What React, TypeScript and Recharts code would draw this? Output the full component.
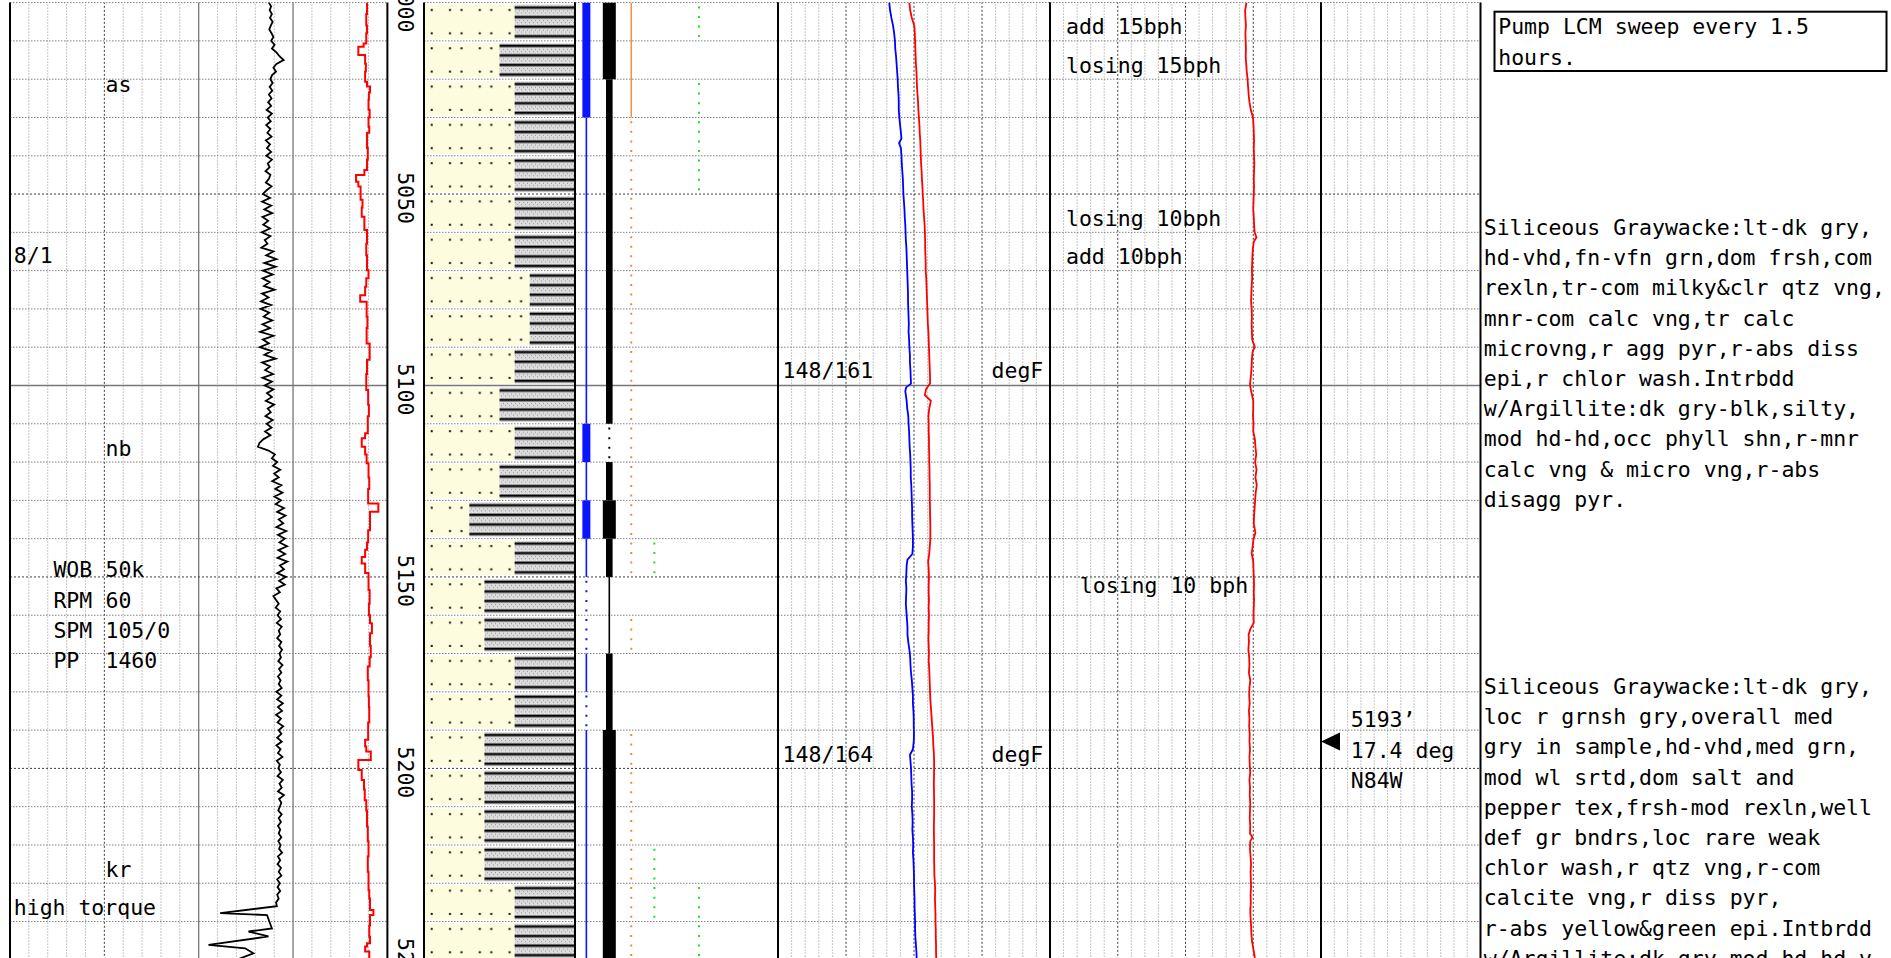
import React from 'react';
import { ComposedChart, Line, Bar, XAxis, YAxis, ReferenceLine, ReferenceDot } from 'recharts';

// ---------------- data ----------------
const DEPTH_TOP = 5000;
const DEPTH_BOTTOM = 5250;
const minorDepths = [5000, 5010, 5020, 5030, 5040, 5060, 5070, 5080, 5090, 5110, 5120, 5130, 5140, 5160, 5170, 5180, 5190, 5210, 5220, 5230, 5240];
const dashedMajorDepths = [5050, 5150, 5200];
const solidMajorDepths = [5100];
const depthLabels = [5000, 5050, 5100, 5150, 5200, 5250];

const intervalTops = [5000, 5010, 5020, 5030, 5040, 5050, 5060, 5070, 5080, 5090, 5100, 5110, 5120, 5130, 5140, 5150, 5160, 5170, 5180, 5190, 5200, 5210, 5220, 5230, 5240];
const sandPercent = [60, 50, 60, 60, 60, 60, 60, 70, 70, 60, 50, 60, 50, 30, 60, 40, 40, 60, 60, 40, 40, 40, 40, 60, 60];

// gas / show columns: 0 none, 1 trace (dotted), 2 thin, 3 medium, 4 thick
const c1Levels = [4, 4, 4, 2, 2, 2, 2, 2, 2, 2, 2, 4, 2, 4, 2, 1, 1, 2, 1, 2, 2, 2, 2, 2, 2];
const c2Levels = [4, 4, 3, 3, 3, 3, 3, 3, 3, 3, 3, 1, 3, 4, 3, 2, 2, 3, 3, 4, 4, 4, 4, 4, 4];
const c3Levels = [2, 2, 2, 1, 1, 1, 1, 1, 1, 1, 1, 1, 1, 1, 1, 0, 1, 0, 0, 1, 1, 1, 1, 1, 1];
const c4Levels = [0, 0, 0, 0, 0, 0, 0, 0, 0, 0, 0, 0, 0, 0, 1, 0, 0, 0, 0, 0, 0, 0, 1, 1, 0];
const c5Levels = [1, 0, 1, 1, 1, 0, 0, 0, 0, 0, 0, 0, 0, 0, 0, 0, 0, 0, 0, 0, 0, 0, 0, 1, 1];

// drilling rate curve (% of track), one value per foot from 5000
const ropValues = [
  68.6, 69.2, 68.8, 69.4, 68.9, 69.6, 69.1, 68.7, 69.3, 69.8,
  69.2, 70.1, 69.4, 70.6, 71.4, 72.5, 70.6, 69.8, 70.5, 69.4,
  69.0, 69.6, 68.8, 69.5, 68.6, 69.3, 68.4, 69.2, 68.0, 69.4,
  68.3, 69.1, 67.9, 69.0, 68.2, 69.3, 67.8, 68.9, 68.1, 69.2,
  67.9, 69.4, 68.3, 68.8, 67.7, 69.0, 68.6, 67.8, 69.3, 68.0,
  67.0, 68.9, 66.8, 69.2, 67.4, 69.5, 66.9, 68.4, 67.1, 68.9,
  66.7, 69.0, 67.5, 68.2, 66.6, 69.8, 67.9, 70.6, 67.4, 70.4,
  67.0, 69.6, 66.9, 68.8, 67.3, 70.1, 66.8, 68.5, 66.5, 69.2,
  66.4, 68.7, 67.2, 69.5, 66.9, 68.9, 66.3, 69.8, 67.0, 68.6,
  66.2, 69.3, 67.4, 70.4, 66.8, 68.9, 67.6, 69.7, 66.9, 69.4,
  67.5, 69.8, 68.1, 69.4, 67.8, 70.0, 68.3, 69.1, 67.7, 69.6,
  68.0, 69.3, 67.6, 69.0, 67.2, 66.1, 65.7, 68.5, 70.2, 69.4,
  70.8, 69.7, 71.6, 70.0, 71.2, 69.5, 71.9, 70.3, 72.2, 70.1,
  71.8, 70.4, 72.6, 70.8, 73.0, 71.2, 72.4, 70.6, 73.2, 71.0,
  72.8, 71.4, 73.4, 71.1, 72.9, 70.9, 73.5, 71.5, 72.6, 70.8,
  73.1, 71.3, 72.8, 70.6, 71.5, 69.8, 70.5, 71.2, 70.4, 71.6,
  70.9, 71.8, 70.7, 72.0, 71.2, 71.6, 70.8, 71.9, 71.3, 72.1,
  71.4, 71.8, 71.1, 72.2, 71.3, 71.9, 71.0, 71.7, 71.2, 72.0,
  70.6, 71.9, 70.8, 72.3, 71.0, 72.1, 70.5, 71.8, 70.9, 72.4,
  71.2, 71.9, 70.8, 72.0, 70.6, 71.7, 71.0, 72.2, 70.7, 71.5,
  71.1, 71.8, 70.9, 72.3, 71.4, 72.0, 71.0, 72.6, 71.3, 71.9,
  71.5, 71.1, 72.0, 71.2, 71.8, 71.0, 71.6, 71.2, 71.9, 71.1,
  71.7, 71.3, 72.1, 71.0, 71.6, 70.9, 71.8, 71.2, 71.9, 70.8,
  71.5, 70.9, 71.6, 70.8, 71.2, 70.5, 70.7,
];
const ropTail: [number, number][] = [
  [5237.8, 55.7], [5238.3, 68.1], [5241.8, 69.4], [5242.6, 63.2], [5243.9, 68.5],
  [5246.1, 52.6], [5247.0, 62.3], [5248.3, 64.5], [5250, 60.0],
];

// torque (stepped), % of track
const torqueSteps: [number, number][] = [
  [5000, 94.6], [5003, 94.4], [5006, 94.6], [5008, 94.4], [5010.7, 93.7], [5011.5, 92.3], [5013.7, 94.1], [5016, 94.3],
  [5018, 94.1], [5020.7, 94.6], [5021.9, 95.4], [5023.5, 95.1], [5025.4, 95.0], [5028, 95.3], [5030, 95.0], [5032.4, 95.2],
  [5034, 94.6], [5038, 94.8], [5041, 94.6], [5043.7, 93.9], [5045, 91.7], [5046.8, 92.3], [5048, 92.9], [5051.5, 93.4],
  [5053.5, 93.2], [5055.9, 93.9], [5059.4, 94.6], [5063, 94.4], [5066, 94.6], [5069.9, 95.0], [5072, 94.4], [5074.2, 94.1],
  [5076.4, 92.8], [5078.1, 94.5], [5082, 94.7], [5085, 94.5], [5089, 95.3], [5093.3, 94.6], [5097, 94.4], [5101.2, 94.9],
  [5105, 95.1], [5108, 94.8], [5112.5, 94.1], [5113.8, 93.2], [5116, 94.1], [5118, 94.5], [5120.3, 95.0], [5124, 95.2],
  [5127, 94.9], [5130.8, 97.6], [5133, 95.4], [5137.8, 94.9], [5141, 94.6], [5142.9, 94.1], [5144.8, 93.2], [5146.5, 94.1],
  [5149, 95.0], [5153.4, 95.3], [5157, 95.1], [5160, 95.4], [5162.1, 95.9], [5164.7, 95.4], [5168, 95.6], [5171, 95.3],
  [5173.4, 94.8], [5177, 95.0], [5181.2, 95.1], [5184, 95.2], [5188, 94.9], [5192.5, 94.1], [5194.3, 94.4], [5195.6, 95.6],
  [5197.8, 92.3], [5200.4, 93.2], [5203, 93.8], [5205.5, 94.0], [5208.3, 94.4], [5211, 94.6], [5215.2, 94.8], [5219, 95.0],
  [5223, 94.8], [5227, 95.0], [5231.8, 95.2], [5234, 95.4], [5237, 96.3], [5238.3, 95.4], [5241, 95.2], [5244, 95.4],
  [5245.7, 94.6], [5246.5, 94.1], [5247.8, 95.2], [5250, 95.2],
];

// mud temperature in / out (degF)
const tempIn: [number, number][] = [
  [5000, 140.9], [5002, 141.2], [5004, 141.7], [5006, 142.3], [5008, 142.7], [5010, 143.0], [5012, 143.1], [5014, 143.4],
  [5016, 143.6], [5018, 143.8], [5020, 144.0], [5022, 144.1], [5024, 144.3], [5026, 144.4], [5028, 144.4], [5030, 144.6],
  [5032, 144.9], [5034, 145.2], [5035.5, 145.4], [5036.7, 144.5], [5038, 145.2], [5040, 145.4], [5042, 145.5], [5044, 145.7],
  [5046, 145.9], [5048, 146.0], [5050, 146.1], [5052, 146.3], [5054, 146.5], [5056, 146.6], [5058, 146.8], [5060, 146.9],
  [5062, 147.0], [5064, 147.2], [5066, 147.3], [5068, 147.4], [5070, 147.5], [5072, 147.6], [5074, 147.7], [5076, 147.8],
  [5078, 147.8], [5080, 147.9], [5082, 148.0], [5084, 148.1], [5086, 148.0], [5088, 148.2], [5090, 148.3], [5092, 148.5],
  [5094, 148.5], [5096, 148.7], [5098, 148.8], [5099.5, 148.9], [5100.5, 147.1], [5101.5, 146.8], [5104, 147.3], [5106, 147.5],
  [5108, 147.9], [5110, 148.0], [5112, 148.2], [5114, 148.3], [5116, 148.4], [5118, 148.6], [5120, 148.7], [5122, 148.8],
  [5124, 148.8], [5126, 149.0], [5128, 149.1], [5130, 149.2], [5132, 149.3], [5134, 149.3], [5136, 149.4], [5138, 149.5],
  [5140, 149.6], [5142, 149.6], [5144, 149.4], [5145.5, 147.6], [5147, 147.3], [5149, 147.2], [5151, 147.0], [5153, 147.2],
  [5155, 147.1], [5157, 147.0], [5159, 147.2], [5161, 147.4], [5163, 147.6], [5165, 147.6], [5167, 147.9], [5169, 148.3],
  [5171, 148.6], [5173, 148.7], [5175, 148.9], [5177, 149.2], [5179, 149.4], [5181, 149.6], [5183, 149.6], [5185, 149.8],
  [5187, 149.9], [5189, 149.9], [5191, 150.0], [5193, 149.9], [5195, 149.6], [5196.5, 148.5], [5198, 148.7], [5200, 148.9],
  [5202, 149.0], [5204, 149.1], [5206, 149.3], [5208, 149.3], [5210, 149.2], [5212, 149.4], [5214, 149.5], [5216, 149.4],
  [5218, 149.6], [5220, 149.7], [5222, 149.6], [5224, 149.8], [5226, 149.9], [5228, 150.0], [5230, 150.0], [5232, 150.1],
  [5234, 150.2], [5236, 150.2], [5238, 150.3], [5240, 150.4], [5242, 150.4], [5244, 150.5], [5246, 150.7], [5248, 150.9],
  [5250, 151.0],
];
const tempOut: [number, number][] = [
  [5000, 148.3], [5002, 148.6], [5004, 149.2], [5006, 150.1], [5008, 150.3], [5010, 150.4], [5012, 150.5], [5014, 150.6],
  [5016, 150.7], [5018, 150.9], [5020, 151.0], [5022, 151.1], [5024, 151.3], [5026, 151.5], [5028, 151.6], [5030, 151.8],
  [5032, 152.0], [5034, 152.1], [5036, 152.3], [5038, 152.4], [5040, 152.5], [5042, 152.6], [5044, 152.8], [5046, 152.9],
  [5048, 153.1], [5050, 153.2], [5052, 153.4], [5054, 153.5], [5056, 153.7], [5058, 153.9], [5060, 154.0], [5062, 154.1],
  [5064, 154.1], [5066, 154.2], [5068, 154.3], [5070, 154.3], [5072, 154.5], [5074, 154.6], [5076, 154.7], [5078, 154.8],
  [5080, 154.9], [5082, 155.0], [5084, 155.1], [5086, 155.3], [5088, 155.4], [5090, 155.5], [5092, 155.6], [5094, 155.7],
  [5096, 155.8], [5098, 155.9], [5099.5, 155.9], [5101, 154.4], [5102.5, 154.0], [5104, 156.2], [5106, 155.6], [5108, 155.3],
  [5110, 155.4], [5112, 155.4], [5114, 155.5], [5116, 155.5], [5118, 155.6], [5120, 155.6], [5122, 155.7], [5124, 155.7],
  [5126, 155.8], [5128, 155.8], [5130, 155.8], [5132, 155.9], [5134, 155.9], [5136, 156.0], [5138, 156.0], [5140, 156.0],
  [5142, 155.8], [5144, 155.6], [5146, 155.2], [5148, 155.4], [5150, 155.5], [5152, 155.4], [5154, 155.4], [5156, 155.5],
  [5158, 155.4], [5160, 155.5], [5162, 155.4], [5164, 155.4], [5166, 155.3], [5168, 155.4], [5170, 155.5], [5172, 155.4],
  [5174, 155.6], [5176, 155.7], [5178, 155.8], [5180, 155.9], [5182, 156.0], [5184, 156.2], [5186, 156.4], [5188, 156.6],
  [5190, 156.8], [5192, 157.0], [5194, 157.1], [5196, 157.3], [5198, 157.4], [5200, 157.4], [5204, 157.3], [5208, 157.4],
  [5212, 157.4], [5216, 157.3], [5220, 157.4], [5224, 157.4], [5228, 157.5], [5230, 157.7], [5232, 157.8], [5234, 157.7],
  [5236, 157.8], [5238, 157.9], [5240, 157.9], [5242, 158.0], [5244, 158.0], [5246, 158.1], [5248, 158.1], [5250, 158.2],
];

// mud flow / pit (% of track)
const flowPts: [number, number][] = [
  [5000, 72.5], [5002, 72.0], [5004, 72.1], [5006, 72.3], [5008, 72.1], [5010, 72.2], [5012, 72.3], [5014, 72.2],
  [5016, 72.4], [5018, 72.6], [5020, 72.9], [5022, 73.1], [5024, 73.3], [5026, 73.6], [5028, 74.1], [5030, 74.9],
  [5032, 75.1], [5034, 75.2], [5036, 75.3], [5038, 75.2], [5040, 75.3], [5042, 75.4], [5044, 75.3], [5046, 75.2],
  [5048, 75.3], [5050, 75.2], [5052, 75.1], [5054, 75.0], [5056, 75.2], [5058, 75.3], [5060, 75.5], [5061.3, 76.2],
  [5062.5, 75.2], [5064, 74.9], [5066, 74.7], [5068, 74.6], [5070, 74.5], [5072, 74.6], [5074, 74.4], [5076, 74.3],
  [5078, 74.2], [5080, 74.4], [5082, 74.5], [5084, 74.4], [5086, 74.5], [5088, 74.6], [5090, 75.6], [5091, 74.8],
  [5093, 74.5], [5095, 74.4], [5097, 74.2], [5099, 73.9], [5100, 73.8], [5102, 74.4], [5104, 75.0], [5106, 75.0],
  [5108, 74.9], [5110, 75.1], [5112, 75.0], [5114, 75.6], [5116, 75.8], [5118, 76.1], [5120, 75.7], [5122, 76.2],
  [5124, 75.8], [5126, 76.3], [5128, 75.9], [5130, 75.7], [5132, 75.5], [5134, 75.3], [5136, 75.2], [5138.5, 75.8],
  [5140, 75.1], [5142, 74.8], [5143.8, 74.4], [5146, 75.0], [5148, 75.1], [5150, 75.2], [5152, 75.3], [5154, 75.2],
  [5156, 75.3], [5158, 75.2], [5160, 75.1], [5162, 75.2], [5163.5, 74.0], [5165, 73.3], [5167, 73.4], [5169, 73.2],
  [5171, 73.5], [5173, 73.6], [5175, 73.4], [5177, 73.9], [5179, 73.6], [5181, 73.5], [5183, 73.7], [5185, 73.4],
  [5187, 73.6], [5189, 73.5], [5191, 73.7], [5193, 73.6], [5195, 73.8], [5197, 73.6], [5199, 73.7], [5201, 73.9],
  [5203, 73.6], [5205, 73.8], [5207, 73.7], [5209, 73.9], [5211, 73.8], [5213, 73.7], [5215, 73.9], [5217, 73.8],
  [5218, 74.7], [5219, 73.9], [5221, 73.8], [5223, 74.0], [5225, 74.2], [5227, 74.0], [5229, 74.1], [5231, 74.2],
  [5233, 74.0], [5235, 74.1], [5237, 73.9], [5239, 74.0], [5241, 74.2], [5243, 74.3], [5245, 74.5], [5247, 75.0],
  [5249, 75.5], [5250, 75.6],
];

const surveyDepth = 5193;

// text annotations: [depth, x-value, text]
const drillNotes: [number, number, string][] = [
  [5023.3, 25.3, 'as'], [5068.1, 1.0, '8/1'], [5118.4, 25.3, 'nb'],
  [5150.1, 11.5, 'WOB'], [5150.1, 25.3, '50k'],
  [5158.2, 11.5, 'RPM'], [5158.2, 25.3, '60'],
  [5166.0, 11.5, 'SPM'], [5166.0, 25.3, '105/0'],
  [5173.9, 11.5, 'PP'], [5173.9, 25.3, '1460'],
  [5228.3, 25.3, 'kr'], [5238.3, 1.0, 'high torque'],
];
const tempNotes: [number, number, string][] = [
  [5098.1, 101.7, '148/161'], [5098.1, 178.5, 'degF'],
  [5198.2, 101.7, '148/164'], [5198.2, 178.5, 'degF'],
];
const flowNotes: [number, number, string][] = [
  [5008.3, 5.9, 'add 15bph'], [5018.3, 5.9, 'losing 15bph'],
  [5058.3, 5.9, 'losing 10bph'], [5068.3, 5.9, 'add 10bph'],
  [5154.3, 11.0, 'losing 10 bph'],
];
const surveyNotes: [number, number, string][] = [
  [5189.3, 22.4, '5193\u2019'], [5197.4, 22.4, '17.4 deg'], [5205.2, 22.4, 'N84W'],
];

const remarkLines = ['Pump LCM sweep every 1.5', 'hours.'];
const descriptionA = [
  'Siliceous Graywacke:lt-dk gry,',
  'hd-vhd,fn-vfn grn,dom frsh,com',
  'rexln,tr-com milky&clr qtz vng,',
  'mnr-com calc vng,tr calc',
  'microvng,r agg pyr,r-abs diss',
  'epi,r chlor wash.Intrbdd',
  'w/Argillite:dk gry-blk,silty,',
  'mod hd-hd,occ phyll shn,r-mnr',
  'calc vng & micro vng,r-abs',
  'disagg pyr.',
];
const descriptionB = [
  'Siliceous Graywacke:lt-dk gry,',
  'loc r grnsh gry,overall med',
  'gry in sample,hd-vhd,med grn,',
  'mod wl srtd,dom salt and',
  'pepper tex,frsh-mod rexln,well',
  'def gr bndrs,loc rare weak',
  'chlor wash,r qtz vng,r-com',
  'calcite vng,r diss pyr,',
  'r-abs yellow&green epi.Intbrdd',
  'w/Argillite:dk gry,mod hd-hd,v',
];

// grid divisions
const div20Minor = [5, 10, 15, 20, 30, 35, 40, 45, 55, 60, 65, 70, 80, 85, 90, 95];
const tempMinor = [105, 110, 115, 120, 130, 135, 140, 145, 155, 160, 165, 170, 180, 185, 190, 195];
const surveyMinor = [10, 20, 30, 40, 50, 60, 70, 80, 90, 100, 110];

// ---------------- layout / style ----------------
const FONT = '"DejaVu Sans Mono", "Liberation Mono", monospace';
const FS = 21.5;
const CHART_H = 960;
const PLOT_H = 957.25;
const M_TOP = 2.6;
const M_BOTTOM = CHART_H - M_TOP - PLOT_H;
const PAD = 2;
const BAND = PLOT_H / intervalTops.length;

const TR = {
  drill: { left: 9.6, right: 387 },
  depth: { left: 387, right: 424 },
  litho: { left: 424, right: 575 },
  gas: { left: 575, right: 778 },
  temp: { left: 778, right: 1050 },
  flow: { left: 1050, right: 1321 },
  survey: { left: 1321, right: 1480.5 },
};
const DEPTH_W = TR.depth.right - TR.depth.left;

const H_MINOR = { stroke: '#808080', strokeDasharray: '1.5 1.5', strokeWidth: 1 };
const V_MINOR = { stroke: '#b4b4b4', strokeDasharray: '1.5 1.5', strokeWidth: 1 };
const DARK = { stroke: '#3c3c3c', strokeDasharray: '2 2', strokeWidth: 1 };
const SOLID = { stroke: '#777777', strokeWidth: 1.3 };

const gasColumns = [
  { id: 'c1', pos: 5.6, color: '#0a14ff', levels: c1Levels, widths: { 4: 8, 2: 1.6 } as Record<number, number> },
  { id: 'c2', pos: 16.9, color: '#000000', levels: c2Levels, widths: { 4: 13, 3: 6.6, 2: 1.6 } as Record<number, number> },
  { id: 'c3', pos: 27.7, color: '#f08a30', levels: c3Levels, widths: { 2: 1.4 } as Record<number, number> },
  { id: 'c4', pos: 39.1, color: '#22dd22', levels: c4Levels, widths: {} as Record<number, number> },
  { id: 'c5', pos: 61.1, color: '#22dd22', levels: c5Levels, widths: {} as Record<number, number> },
];

// ---------------- helpers ----------------
const pairData = (pts: [number, number][]) => pts.map(([depth, v]) => ({ depth, v }));
const ropData = ropValues.map((v, i) => ({ depth: DEPTH_TOP + i, v })).concat(pairData(ropTail));

// contiguous runs of one level -> [top, bottom]
function levelRuns(levels: number[], lvl: number) {
  const out: [number, number][] = [];
  let i = 0;
  while (i < levels.length) {
    if (levels[i] === lvl) {
      let j = i;
      while (j + 1 < levels.length && levels[j + 1] === lvl) j++;
      const bottom = j + 1 < intervalTops.length ? intervalTops[j + 1] : DEPTH_BOTTOM;
      out.push([intervalTops[i], bottom]);
      i = j + 1;
    } else i++;
  }
  return out;
}

function hGrid(yAxisId: any = 0) {
  return [
    ...minorDepths.map((d) => <ReferenceLine key={'hm' + d} yAxisId={yAxisId} y={d} {...H_MINOR} />),
    ...dashedMajorDepths.map((d) => <ReferenceLine key={'hd' + d} yAxisId={yAxisId} y={d} {...DARK} />),
    ...solidMajorDepths.map((d) => <ReferenceLine key={'hs' + d} yAxisId={yAxisId} y={d} {...SOLID} />),
  ];
}

function vGrid(minor: number[], dark: number[], solid: number[], yAxisId: any = 0) {
  return [
    ...minor.map((x) => <ReferenceLine key={'vm' + x} yAxisId={yAxisId} x={x} {...V_MINOR} />),
    ...dark.map((x) => <ReferenceLine key={'vd' + x} yAxisId={yAxisId} x={x} {...DARK} />),
    ...solid.map((x) => <ReferenceLine key={'vs' + x} yAxisId={yAxisId} x={x} {...SOLID} />),
  ];
}

function borders(domain: [number, number], yAxisId: any = 0) {
  return domain.map((x) => <ReferenceLine key={'b' + x} yAxisId={yAxisId} x={x} stroke="#000" strokeWidth={2} />);
}

function notes(list: [number, number, string][], prefix: string) {
  return list.map(([d, x, t], i) => (
    <ReferenceDot
      key={prefix + i}
      x={x}
      y={d}
      r={1}
      ifOverflow="visible"
      shape={(p: any) => (
        <text x={p.cx} y={p.cy} fontFamily={FONT} fontSize={FS} fill="#000" style={{ whiteSpace: 'pre' }}>
          {t}
        </text>
      )}
    />
  ));
}

function trackChart(
  key: string,
  t: { left: number; right: number },
  domain: [number, number],
  grid: { minor: number[]; dark: number[]; solid: number[] },
  content: React.ReactNode[],
) {
  const w = t.right - t.left;
  return (
    <div key={key} style={{ position: 'absolute', left: t.left - PAD, top: 0 }}>
      <ComposedChart
        layout="vertical"
        width={w + 2 * PAD}
        height={CHART_H}
        margin={{ top: M_TOP, bottom: M_BOTTOM, left: PAD, right: PAD }}
      >
        <XAxis type="number" domain={domain} hide allowDataOverflow />
        <YAxis type="number" dataKey="depth" domain={[DEPTH_TOP, DEPTH_BOTTOM]} hide allowDataOverflow />
        {vGrid(grid.minor, grid.dark, grid.solid)}
        {hGrid()}
        {borders(domain)}
        {content}
      </ComposedChart>
    </div>
  );
}

const DepthTick = (p: any) => {
  const cx = DEPTH_W / 2;
  const cy = p.y;
  return (
    <text
      x={cx}
      y={cy}
      dx={4}
      dy="0.36em"
      textAnchor="middle"
      transform={`rotate(90 ${cx} ${cy})`}
      fontFamily={FONT}
      fontSize={FS}
      fill="#000"
    >
      {p.payload.value}
    </text>
  );
};

const lithoRows = intervalTops.map((top, i) => ({ top, sand: sandPercent[i], shale: 100 - sandPercent[i] }));

export default function App() {
  const lithoOffsetX = TR.litho.left - TR.depth.left;

  const gasLines: React.ReactNode[] = [];
  gasColumns.forEach((c) => {
    [4, 3, 2].forEach((lvl) => {
      if (!c.widths[lvl]) return;
      levelRuns(c.levels, lvl).forEach(([top, bottom]) => {
        gasLines.push(
          <Line
            key={c.id + '-' + lvl + '-' + top}
            data={[{ depth: top, v: c.pos }, { depth: bottom, v: c.pos }]}
            dataKey="v"
            stroke={c.color}
            strokeWidth={c.widths[lvl]}
            strokeLinecap="butt"
            dot={false}
            activeDot={false}
            isAnimationActive={false}
          />,
        );
      });
    });
    levelRuns(c.levels, 1).forEach(([top, bottom]) => {
      gasLines.push(
        <Line
          key={c.id + '-trace-' + top}
          data={[{ depth: top, v: c.pos }, { depth: bottom, v: c.pos }]}
          dataKey="v"
          stroke={c.color}
          strokeWidth={2}
          strokeDasharray={`2 ${BAND / 4 - 2}`}
          strokeDashoffset={BAND / 4 - 3.8}
          strokeLinecap="butt"
          dot={false}
          activeDot={false}
          isAnimationActive={false}
        />,
      );
    });
  });

  return (
    <div
      style={{
        position: 'absolute',
        left: 0,
        top: 0,
        width: 1891,
        height: 958,
        overflow: 'hidden',
        background: '#ffffff',
      }}
    >
      <svg width={0} height={0} style={{ position: 'absolute' }}>
        <defs>
          <pattern id="sandPat" patternUnits="userSpaceOnUse" x={lithoOffsetX} y={0} width={29.8} height={BAND}>
            <rect x={0} y={0} width={29.8} height={BAND} fill="#fdfcdf" />
            <rect x={6.7} y={9} width={2} height={2} fill="#111" />
            <rect x={25} y={9} width={2} height={2} fill="#111" />
            <rect x={6.7} y={32.3} width={2} height={2} fill="#111" />
            <rect x={25} y={32.3} width={2} height={2} fill="#111" />
          </pattern>
          <pattern id="shalePat" patternUnits="userSpaceOnUse" x={0} y={0} width={4} height={BAND / 4}>
            <rect x={0} y={0} width={4} height={BAND / 4} fill="#dcdcdc" />
            <rect x={0} y={1} width={1} height={1} fill="#9a9a9a" />
            <rect x={2} y={3} width={1} height={1} fill="#9a9a9a" />
            <rect x={1} y={5} width={1} height={1} fill="#f2f2f2" />
            <rect x={0} y={6.3} width={4} height={2.2} fill="#000" />
            <rect x={0} y={8.5} width={4} height={1} fill="#8c8c8c" />
          </pattern>
        </defs>
      </svg>

      {trackChart('drill', TR.drill, [0, 100], { minor: div20Minor, dark: [25], solid: [50, 75] }, [
        <Line key="rop" data={ropData} dataKey="v" stroke="#000" strokeWidth={1.8} dot={false} activeDot={false} isAnimationActive={false} />,
        <Line
          key="torque"
          data={pairData(torqueSteps)}
          dataKey="v"
          type="stepBefore"
          stroke="#ff0000"
          strokeWidth={2}
          dot={false}
          activeDot={false}
          isAnimationActive={false}
        />,
        ...notes(drillNotes, 'dn'),
      ])}

      <div style={{ position: 'absolute', left: TR.depth.left, top: 0 }}>
        <ComposedChart
          layout="vertical"
          width={TR.litho.right - TR.depth.left + PAD}
          height={CHART_H}
          data={lithoRows}
          margin={{ top: M_TOP, bottom: M_BOTTOM, left: 0, right: PAD }}
          barCategoryGap={0}
          barGap={0}
        >
          <XAxis type="number" domain={[0, 100]} hide allowDataOverflow />
          <YAxis yAxisId="cat" type="category" dataKey="top" hide />
          <YAxis
            yAxisId="depth"
            type="number"
            dataKey="top"
            domain={[DEPTH_TOP, DEPTH_BOTTOM]}
            allowDataOverflow
            ticks={depthLabels}
            interval={0}
            width={DEPTH_W}
            axisLine={false}
            tickLine={false}
            tickSize={0}
            tickMargin={0}
            tick={DepthTick}
          />
          <Bar yAxisId="cat" dataKey="sand" stackId="lith" fill="url(#sandPat)" barSize={BAND} isAnimationActive={false} />
          <Bar yAxisId="cat" dataKey="shale" stackId="lith" fill="url(#shalePat)" barSize={BAND} isAnimationActive={false} />
          {hGrid('depth')}
          {borders([0, 100], 'depth')}
        </ComposedChart>
      </div>

      {trackChart('gas', TR.gas, [0, 100], { minor: [], dark: [], solid: [] }, gasLines)}

      {trackChart('temp', TR.temp, [100, 200], { minor: tempMinor, dark: [125, 150, 175], solid: [] }, [
        <Line key="tin" data={pairData(tempIn)} dataKey="v" stroke="#0000ff" strokeWidth={1.8} dot={false} activeDot={false} isAnimationActive={false} />,
        <Line key="tout" data={pairData(tempOut)} dataKey="v" stroke="#ff0000" strokeWidth={1.8} dot={false} activeDot={false} isAnimationActive={false} />,
        ...notes(tempNotes, 'tn'),
      ])}

      {trackChart('flow', TR.flow, [0, 100], { minor: div20Minor, dark: [25, 50, 75], solid: [] }, [
        <Line key="flow" data={pairData(flowPts)} dataKey="v" stroke="#ff0000" strokeWidth={1.8} dot={false} activeDot={false} isAnimationActive={false} />,
        ...notes(flowNotes, 'fn'),
      ])}

      {trackChart('survey', TR.survey, [0, 120], { minor: surveyMinor, dark: [], solid: [] }, [
        <ReferenceDot
          key="svy"
          x={0}
          y={surveyDepth}
          r={1}
          ifOverflow="visible"
          shape={(p: any) => (
            <polygon points={`${p.cx},${p.cy} ${p.cx + 19},${p.cy - 9} ${p.cx + 19},${p.cy + 9}`} fill="#000" />
          )}
        />,
        ...notes(surveyNotes, 'sn'),
      ])}

      <svg width={1891 - TR.survey.right} height={958} style={{ position: 'absolute', left: TR.survey.right, top: 0 }}>
        <rect x={13.5} y={11.7} width={392} height={59.3} fill="none" stroke="#000" strokeWidth={2} />
        {remarkLines.map((l, i) => (
          <text key={'r' + i} x={17.2} y={34.3 + i * 30.3} fontFamily={FONT} fontSize={FS} fill="#000" style={{ whiteSpace: 'pre' }}>
            {l}
          </text>
        ))}
        {descriptionA.map((l, i) => (
          <text key={'a' + i} x={2.7} y={235 + i * 30.2} fontFamily={FONT} fontSize={FS} fill="#000" style={{ whiteSpace: 'pre' }}>
            {l}
          </text>
        ))}
        {descriptionB.map((l, i) => (
          <text key={'b' + i} x={2.7} y={694 + i * 30.2} fontFamily={FONT} fontSize={FS} fill="#000" style={{ whiteSpace: 'pre' }}>
            {l}
          </text>
        ))}
      </svg>
    </div>
  );
}
